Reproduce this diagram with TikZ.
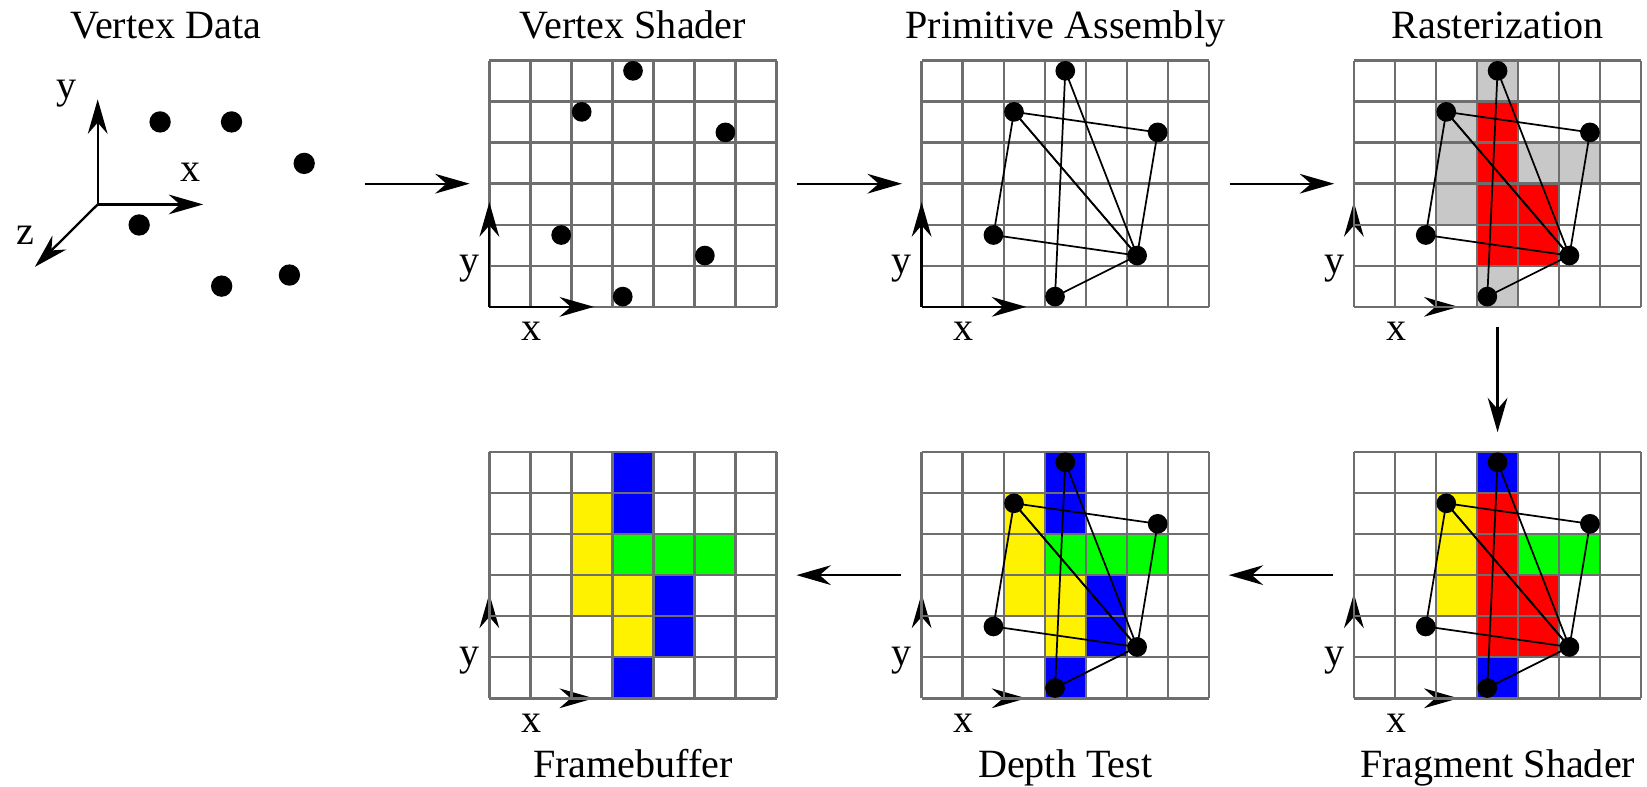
\documentclass[tikz,border=0pt]{standalone}
\usepackage{fontspec}
\setmainfont{Liberation Serif}
\usetikzlibrary{arrows.meta,positioning}

\definecolor{gridgray}{RGB}{110,110,110}
\definecolor{cellgray}{RGB}{200,200,200}

% grid pieces reused in every panel
\newcommand{\pixgrid}{\draw[gridline] (0,0) grid[step=0.5cm] (7,6);}
\newcommand{\gridaxes}{%
  \draw[axis,->] (0,0) -- (0,2.55);
  \draw[axis,->] (0,0) -- (2.55,0);
  \node at (-0.48,0.92) {y};
  \node at (1.03,-0.6) {x};}
\newcommand{\pix}[3]{\fill[#1] (#2,#3) rectangle ++(1,1);}
\newcommand{\verts}{%
  \coordinate (A) at (3.5,5.75);
  \coordinate (B) at (2.25,4.75);
  \coordinate (C) at (5.75,4.25);
  \coordinate (D) at (1.75,1.75);
  \coordinate (E) at (5.25,1.25);
  \coordinate (F) at (3.25,0.25);}
\newcommand{\tris}{%
  \draw[edge] (A) -- (E) -- (F) -- cycle;
  \draw[edge] (B) -- (C) -- (E) -- cycle;
  \draw[edge] (B) -- (D) -- (E) -- cycle;}
\newcommand{\vertdots}{\foreach \p in {A,B,C,D,E,F} \fill (\p) circle (0.24);}

\begin{document}
\begin{tikzpicture}[x=0.5cm, y=0.5cm,
    >={Stealth[length=4.2mm, width=2.4mm]},
    font=\fontsize{13.9}{16}\selectfont,
    panel/.style={minimum width=3.5cm, minimum height=3cm, inner sep=0pt, outer sep=0pt},
    title/.style={anchor=base, inner sep=0pt},
    gridline/.style={draw=gridgray, line width=0.85pt},
    axis/.style={line width=0.8pt},
    edge/.style={line width=0.6pt},
    flow/.style={->, line width=0.8pt, shorten <=2.5mm, shorten >=2.4mm}]
    \useasboundingbox (0,0) rectangle (40.12,19.15);

    % Panels
    \coordinate (vd) at (8.89,14.675);
    \node[panel] (vs) at (15.42,14.675) {};
    \node[panel] (pa) at (25.95,14.675) {};
    \node[panel] (ra) at (36.48,14.675) {};
    \node[panel] (fs) at (36.48,5.14) {};
    \node[panel] (dt) at (25.95,5.14) {};
    \node[panel] (fb) at (15.42,5.14) {};

    % Vertex Data
    \node[title] (vdtitle) at (4.04,18.2) {Vertex Data};
    \draw[axis,->] (2.38,14.17) -- (2.38,16.73);
    \draw[axis,->] (2.38,14.17) -- (4.95,14.17);
    \draw[axis,->] (2.38,14.17) -- (0.85,12.65);
    \node at (1.62,16.87) {y};
    \node at (4.63,14.96) {x};
    \node at (0.61,13.42) {z};
    \foreach \px/\py in {3.90/16.18, 5.64/16.18, 7.41/15.17, 3.39/13.67, 5.40/12.18, 7.05/12.45}
        \fill (\px,\py) circle (0.26);

    % Vertex Shader
    \node[title] at ([yshift=2.65mm]vs.north) {Vertex Shader};
    \begin{scope}[shift={(vs.south west)}]
        \pixgrid
        \gridaxes
        \verts
        \vertdots
    \end{scope}

    % Primitive Assembly
    \node[title] at ([yshift=2.65mm]pa.north) {Primitive Assembly};
    \begin{scope}[shift={(pa.south west)}]
        \pixgrid
        \gridaxes
        \verts
        \tris
        \vertdots
    \end{scope}

    % Rasterization
    \node[title] at ([yshift=2.65mm]ra.north) {Rasterization};
    \begin{scope}[shift={(ra.south west)}]
        \foreach \cx/\cy in {3/5, 3/0, 2/4, 2/3, 2/2, 4/3, 5/3} {\pix{cellgray}{\cx}{\cy}}
        \foreach \cx/\cy in {3/1, 3/2, 3/3, 3/4, 4/1, 4/2} {\pix{red}{\cx}{\cy}}
        \gridaxes
        \pixgrid
        \verts
        \tris
        \vertdots
    \end{scope}

    % Fragment Shader
    \node[title] at ([yshift=-9.7mm]fs.south) {Fragment Shader};
    \begin{scope}[shift={(fs.south west)}]
        \foreach \cx/\cy in {3/5, 3/0} {\pix{blue}{\cx}{\cy}}
        \foreach \cx/\cy in {2/4, 2/3, 2/2} {\pix{yellow}{\cx}{\cy}}
        \foreach \cx/\cy in {4/3, 5/3} {\pix{green}{\cx}{\cy}}
        \foreach \cx/\cy in {3/1, 3/2, 3/3, 3/4, 4/1, 4/2} {\pix{red}{\cx}{\cy}}
        \gridaxes
        \pixgrid
        \verts
        \tris
        \vertdots
    \end{scope}

    % Depth Test
    \node[title] at ([yshift=-9.7mm]dt.south) {Depth Test};
    \begin{scope}[shift={(dt.south west)}]
        \foreach \cx/\cy in {3/5, 3/4, 3/0, 4/2, 4/1} {\pix{blue}{\cx}{\cy}}
        \foreach \cx/\cy in {2/4, 2/3, 2/2, 3/2, 3/1} {\pix{yellow}{\cx}{\cy}}
        \foreach \cx/\cy in {3/3, 4/3, 5/3} {\pix{green}{\cx}{\cy}}
        \gridaxes
        \pixgrid
        \verts
        \tris
        \vertdots
    \end{scope}

    % Framebuffer
    \node[title] at ([yshift=-9.7mm]fb.south) {Framebuffer};
    \begin{scope}[shift={(fb.south west)}]
        \foreach \cx/\cy in {3/5, 3/4, 3/0, 4/2, 4/1} {\pix{blue}{\cx}{\cy}}
        \foreach \cx/\cy in {2/4, 2/3, 2/2, 3/2, 3/1} {\pix{yellow}{\cx}{\cy}}
        \foreach \cx/\cy in {3/3, 4/3, 5/3} {\pix{green}{\cx}{\cy}}
        \gridaxes
        \pixgrid
    \end{scope}

    % Pipeline arrows
    \draw[flow, shorten <=0pt] (vd) -- (vs.west);
    \draw[flow] (vs) -- (pa);
    \draw[flow] (pa) -- (ra);
    \draw[flow] (ra) -- (fs);
    \draw[flow] (fs) -- (dt);
    \draw[flow] (dt) -- (fb);

\end{tikzpicture}
\end{document}
